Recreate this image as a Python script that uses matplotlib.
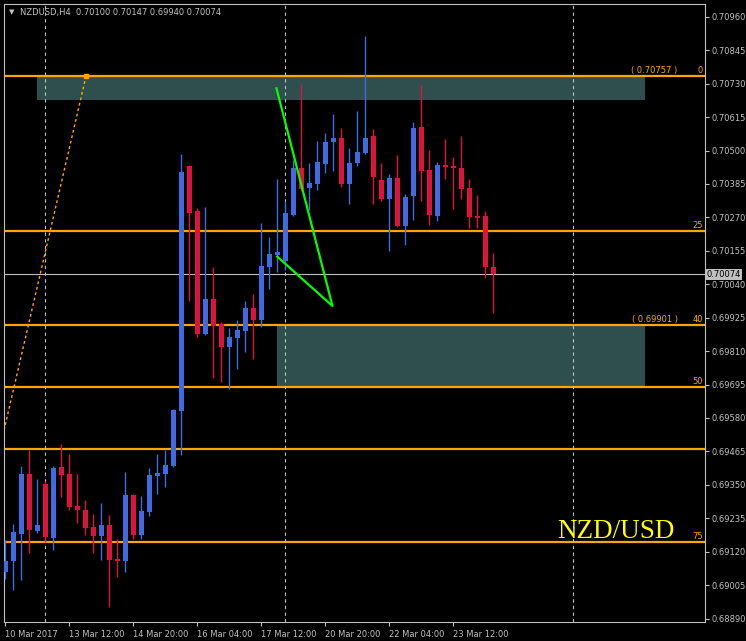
import matplotlib
matplotlib.use("Agg")
import matplotlib.pyplot as plt
import matplotlib.transforms as mtransforms
import numpy as np

# H4 candles, NZDUSD, 10 Mar 2017 -> 24 Mar 2017
opens = [0.69050, 0.69089, 0.69181, 0.69387, 0.69192, 0.69352, 0.69168, 0.69411,
         0.69387, 0.69277, 0.69263, 0.69205, 0.69174, 0.69211, 0.69094, 0.69088,
         0.69315, 0.69177, 0.69256, 0.69380, 0.69387, 0.69414, 0.69604, 0.70446,
         0.70292, 0.69868, 0.69989, 0.69903, 0.69824, 0.69855, 0.69879, 0.69958,
         0.69917, 0.70099, 0.70140, 0.70120, 0.70278, 0.70440, 0.70371, 0.70384,
         0.70453, 0.70529, 0.70543, 0.70384, 0.70457, 0.70491, 0.70550, 0.70398,
         0.70333, 0.70405, 0.70240, 0.70343, 0.70581, 0.70433, 0.70274, 0.70450,
         0.70446, 0.70440, 0.70371, 0.70274, 0.70274, 0.70100]
highs = [0.69160, 0.69215, 0.69414, 0.69469, 0.69370, 0.69363, 0.69414, 0.69490,
         0.69456, 0.69387, 0.69298, 0.69249, 0.69287, 0.69246, 0.69163, 0.69394,
         0.69318, 0.69311, 0.69408, 0.69456, 0.69469, 0.69610, 0.70488, 0.70450,
         0.70302, 0.70305, 0.70099, 0.69910, 0.69889, 0.69917, 0.69982, 0.70006,
         0.70250, 0.70202, 0.70402, 0.70326, 0.70467, 0.70728, 0.70457, 0.70532,
         0.70560, 0.70625, 0.70577, 0.70508, 0.70636, 0.70894, 0.70574, 0.70457,
         0.70419, 0.70484, 0.70350, 0.70598, 0.70725, 0.70501, 0.70460, 0.70539,
         0.70477, 0.70550, 0.70402, 0.70347, 0.70292, 0.70147]
lows = [0.69026, 0.68988, 0.69022, 0.69116, 0.69184, 0.69153, 0.69125, 0.69309,
        0.69263, 0.69219, 0.69177, 0.69116, 0.69091, 0.68930, 0.69034, 0.69051,
        0.69163, 0.69163, 0.69242, 0.69318, 0.69342, 0.69411, 0.69452, 0.69982,
        0.69858, 0.69865, 0.69717, 0.69703, 0.69679, 0.69748, 0.69807, 0.69782,
        0.69893, 0.70023, 0.70082, 0.70089, 0.70274, 0.70360, 0.70295, 0.70364,
        0.70422, 0.70429, 0.70374, 0.70316, 0.70446, 0.70488, 0.70316, 0.70326,
        0.70154, 0.70236, 0.70175, 0.70261, 0.70326, 0.70243, 0.70257, 0.70402,
        0.70298, 0.70333, 0.70233, 0.70233, 0.70061, 0.69940]
closes = [0.69088, 0.69187, 0.69387, 0.69195, 0.69211, 0.69171, 0.69408, 0.69384,
          0.69274, 0.69263, 0.69202, 0.69174, 0.69211, 0.69091, 0.69088, 0.69315,
          0.69177, 0.69260, 0.69383, 0.69390, 0.69418, 0.69607, 0.70426, 0.70285,
          0.69868, 0.69989, 0.69896, 0.69824, 0.69858, 0.69882, 0.69958, 0.69917,
          0.70102, 0.70144, 0.70151, 0.70285, 0.70440, 0.70367, 0.70388, 0.70460,
          0.70529, 0.70543, 0.70384, 0.70457, 0.70495, 0.70543, 0.70409, 0.70333,
          0.70405, 0.70240, 0.70340, 0.70577, 0.70429, 0.70278, 0.70450, 0.70443,
          0.70440, 0.70367, 0.70271, 0.70268, 0.70099, 0.70074]

time_tick_bars = [0, 8, 16, 24, 32, 40, 48, 56]
time_tick_labels = ["10 Mar 2017", "13 Mar 12:00", "14 Mar 20:00", "16 Mar 04:00",
                    "17 Mar 12:00", "20 Mar 20:00", "22 Mar 04:00", "23 Mar 12:00"]
separator_bars = [5, 35, 71]

price_ticks = [0.70960 - 0.00115 * i for i in range(19)]

# Fibonacci retracement: anchors and displayed levels
fib_low = 0.68617
fib_high = 0.70757
fib_anchor_bars = [-7.9, 10.1]
fib_pcts = [0, 25, 40, 50, 60, 75]
fib_labels = ["0", "25", "40", "50", "", "75"]
fib_price_tags = {0: "( 0.70757 )", 40: "( 0.69901 )"}

# zones (bar from, bar to, price low, price high)
zones = [(3.95, 79.95, 0.70674, 0.70757),
         (33.95, 79.95, 0.69688, 0.69901)]

# hand-drawn green lines
green_bars = [33.9, 40.9, 34.0]
green_prices = [0.70714, 0.69965, 0.70135]

last_price = 0.70074

BG = "black"
FG = "#c0c0c0"
BULL = "#4169e1"
BEAR = "#dc143c"
FIB = "#ffa500"

fig = plt.figure(figsize=(7.46, 6.41), dpi=100, facecolor=BG)
ax = fig.add_axes([4 / 746, 19 / 641, 701 / 746, 618 / 641])
ax.set_facecolor(BG)

x = np.arange(len(opens))
o = np.array(opens)
c = np.array(closes)
up = c >= o
colors = np.where(up, BULL, BEAR)

ax.vlines(x, lows, highs, colors=colors, lw=1, zorder=3)
body_h = np.maximum(np.abs(c - o), 0.00005)
body_b = np.minimum(o, c)
ax.bar(x, body_h, bottom=body_b, width=0.6, color=colors, lw=0, zorder=4)

# zones
for x0, x1, lo, hi in zones:
    ax.add_patch(plt.Rectangle((x0, lo), x1 - x0, hi - lo, facecolor="#2f4f4f",
                               edgecolor="none", zorder=1))

# fib levels
rng = fib_high - fib_low
trans = mtransforms.blended_transform_factory(ax.transAxes, ax.transData)
for pct, lab in zip(fib_pcts, fib_labels):
    lvl = fib_high - rng * pct / 100
    ax.axhline(lvl, color=FIB, lw=1.6, zorder=2)
    if lab:
        ax.text(0.997, lvl + 0.00003, lab, transform=trans, color=FIB, fontsize=6,
                ha="right", va="bottom")
    if pct in fib_price_tags:
        ax.text(0.961, lvl + 0.00003, fib_price_tags[pct], transform=trans, color=FIB,
                fontsize=6, ha="right", va="bottom")
ax.plot(fib_anchor_bars, [fib_low, fib_high], color=FIB, lw=1, ls=(0, (2, 2)), zorder=2)
ax.plot([fib_anchor_bars[1]], [fib_high], marker="s", ms=3, color=FIB, zorder=5)

# green drawing
ax.plot(green_bars, green_prices, color="#00ff00", lw=1.6, zorder=5)

# separators
for s in separator_bars:
    ax.axvline(s, color=FG, lw=0.8, ls=(0, (3, 3)), zorder=2)

# current price
ax.axhline(last_price, color=FG, lw=0.8, zorder=2)
ax.text(1.002, last_price, f"{last_price:.5f}", transform=trans, fontsize=6,
        color="black", ha="left", va="center",
        bbox=dict(boxstyle="square,pad=0.15", facecolor=FG, edgecolor="none"))

ax.text(0.789, 0.69168, "NZD/USD", transform=trans, color="#ffff00",
        family="Liberation Serif", fontsize=19.5, ha="left", va="baseline")

ax.set_xlim(-0.16, 87.46)
ax.set_ylim(0.68878, 0.71004)

ax.yaxis.tick_right()
ax.set_yticks(price_ticks)
ax.set_yticklabels([f"{p:.5f}" for p in price_ticks])
ax.set_xticks(time_tick_bars)
ax.set_xticklabels(time_tick_labels, ha="left")
ax.tick_params(axis="both", colors=FG, labelcolor=FG, labelsize=6, length=3,
               width=0.8, direction="out", pad=2)
ax.tick_params(axis="x", pad=3)
for sp in ax.spines.values():
    sp.set_color(FG)
    sp.set_linewidth(0.8)

fig.text(12 / 746, 1 - 12 / 641, "▼", color=FG, fontsize=5, ha="center", va="center")
fig.text(20 / 746, 1 - 12 / 641, "NZDUSD,H4  0.70100 0.70147 0.69940 0.70074",
         color=FG, fontsize=6, ha="left", va="center")

fig.savefig("out.png", dpi=100, facecolor=BG)
